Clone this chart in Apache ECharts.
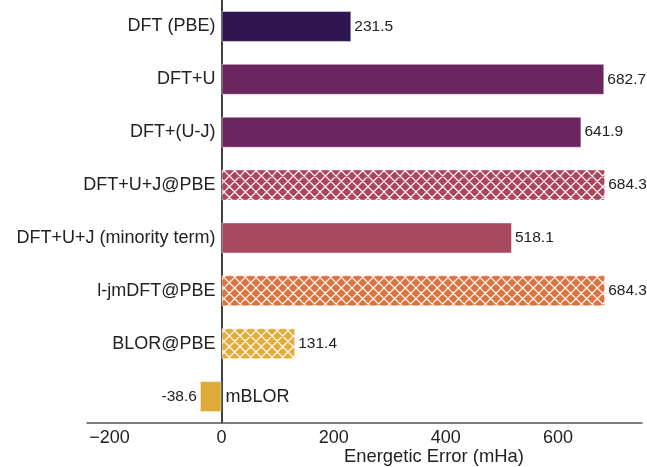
<!DOCTYPE html>
<html>
<head>
<meta charset="utf-8">
<script src="https://cdn.jsdelivr.net/npm/echarts@6/dist/echarts.min.js"></script>
<style>
  html, body { margin: 0; padding: 0; background: #fff; }
  #chart { width: 647px; height: 467px; }
</style>
</head>
<body>
<div id="chart"></div>
<script>
// Methods, top to bottom, and their energetic error in mHa
const categories = ['DFT (PBE)', 'DFT+U', 'DFT+(U-J)', 'DFT+U+J@PBE', 'DFT+U+J (minority term)', 'l-jmDFT@PBE', 'BLOR@PBE', 'mBLOR'];
const errors = [231.5, 682.7, 641.9, 684.3, 518.1, 684.3, 131.4, -38.6];
const xTicks = [-200, 0, 200, 400, 600];

// Bar fills and which bars carry the cross-hatch
const barColors = ['#2f1651', '#6b2660', '#6b2660', '#a9465e', '#a8485c', '#d9733f', '#e1ad3c', '#dfab38'];
const hatched = [false, false, false, true, false, true, true, false];

const FONT = '"Liberation Sans", Arial, Helvetica, sans-serif';
const TEXT = '#222';

// Diagonal white cross-hatch tile over a solid colour
function hatchFill(color) {
  const size = 32, p = size / 3;
  const c = document.createElement('canvas');
  c.width = size; c.height = size;
  const g = c.getContext('2d');
  g.fillStyle = color;
  g.fillRect(0, 0, size, size);
  g.strokeStyle = 'rgba(255,255,255,0.92)';
  g.lineWidth = 1.3;
  g.beginPath();
  for (let k = -4; k <= 4; k++) {
    g.moveTo(k * p, 0); g.lineTo(k * p + size, size);
    g.moveTo(k * p, size); g.lineTo(k * p + size, 0);
  }
  g.stroke();
  return { image: c, repeat: 'repeat' };
}

const barData = errors.map((v, i) => ({
  value: v,
  itemStyle: { color: hatched[i] ? hatchFill(barColors[i]) : barColors[i] },
  label: { position: v >= 0 ? 'right' : 'left' }
}));

const nameData = errors.map((v, i) => ({
  value: v,
  label: {
    position: v >= 0 ? 'left' : 'right',
    distance: v >= 0 ? 6 : 4
  }
}));

const chart = echarts.init(document.getElementById('chart'), null, { renderer: 'canvas' });
chart.setOption({
  animation: false,
  backgroundColor: '#fff',
  grid: { left: 87, right: 5, top: -0.5, bottom: 44, containLabel: false },
  title: {
    text: 'Energetic Error (mHa)',
    left: 339, top: 443,
    textStyle: { fontFamily: FONT, fontSize: 18.4, fontWeight: 'normal', color: TEXT }
  },
  xAxis: {
    type: 'value',
    min: -240, max: 750,
    axisLine: { show: true, onZero: false, lineStyle: { color: '#555', width: 1.5 } },
    axisTick: { show: false },
    splitLine: { show: false },
    axisLabel: {
      customValues: xTicks,
      margin: 6,
      fontFamily: FONT, fontSize: 18, color: TEXT,
      formatter: v => (v < 0 ? '\u2212' + Math.abs(v) : String(v))
    }
  },
  yAxis: {
    type: 'category',
    data: categories,
    inverse: true,
    axisLine: { show: true, onZero: true, lineStyle: { color: '#000', width: 1.5 } },
    axisTick: { show: false },
    axisLabel: { show: false },
    splitLine: { show: false }
  },
  series: [
    {
      type: 'bar',
      data: barData,
      barWidth: 31,
      barGap: '-100%',
      itemStyle: { borderColor: 'rgba(255,255,255,0.45)', borderWidth: 1 },
      label: {
        show: true, distance: 3,
        fontFamily: FONT, fontSize: 15.5, color: TEXT,
        formatter: p => String(p.value)
      },
      z: 2
    },
    {
      type: 'bar',
      data: nameData,
      barWidth: 31,
      barGap: '-100%',
      silent: true,
      itemStyle: { color: 'rgba(0,0,0,0)' },
      label: {
        show: true,
        fontFamily: FONT, fontSize: 18, color: TEXT,
        formatter: p => categories[p.dataIndex]
      },
      z: 3
    }
  ]
});
</script>
</body>
</html>
